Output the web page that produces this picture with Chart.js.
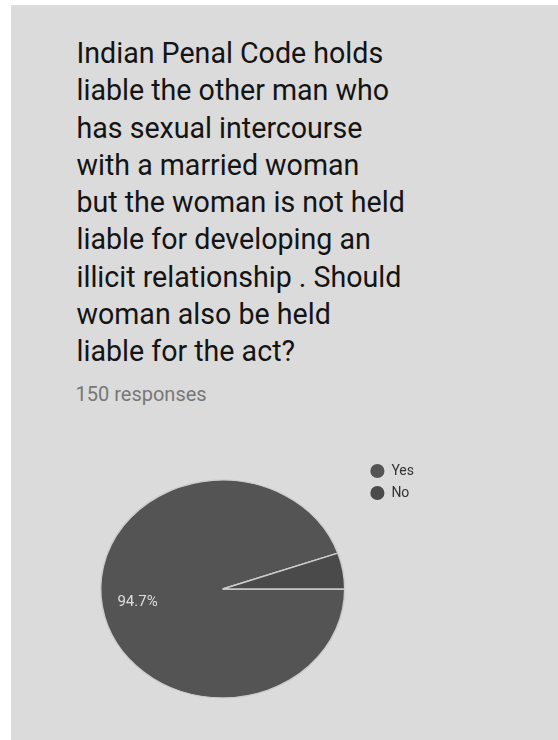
<!DOCTYPE html>
<html>
<head>
<meta charset="utf-8">
<script src="https://cdn.jsdelivr.net/npm/chart.js@4"></script>
<style>
  body { margin: 0; background: #fff; width: 558px; height: 740px; overflow: hidden; position: relative; font-family: Roboto, sans-serif; }
  .panel { position: absolute; left: 11px; top: 5px; right: 0; bottom: 0; background: #dbdbdb; }
  .title { position: absolute; left: 65.5px; top: 30px; font-size: 28.6px; line-height: 37.3px; color: #141414; white-space: nowrap; }
  .count { position: absolute; left: 64.5px; top: 378.9px; font-size: 20px; line-height: 20px; color: #777; white-space: nowrap; }
  #pie { position: absolute; left: 83px; top: 456px; }
</style>
</head>
<body>
<div class="panel">
  <div class="title">Indian Penal Code holds<br>liable the other man who<br>has sexual intercourse<br>with a married woman<br>but the woman is not held<br>liable for developing an<br>illicit relationship . Should<br>woman also be held<br>liable for the act?</div>
  <div class="count">150 responses</div>
</div>
<canvas id="pie" width="341" height="266"></canvas>
<script>
const labels = ['Yes', 'No'];
const responses = [142, 8];
const sliceColors = ['#545454', '#4a4a4a'];

// the pie in the picture is a bit flattened
const squish = 0.893;

const ellipse = {
  id: 'ellipse',
  beforeDatasetsDraw(chart) {
    const arc = chart.getDatasetMeta(0).data[0];
    const ctx = chart.ctx;
    ctx.save();
    ctx.translate(arc.x, arc.y);
    ctx.scale(1, squish);
    ctx.translate(-arc.x, -arc.y);
  },
  afterDatasetsDraw(chart) {
    chart.ctx.restore();
  }
};

// percentage text inside the big slices
const sliceText = {
  id: 'sliceText',
  afterDatasetsDraw(chart) {
    const ctx = chart.ctx;
    const values = chart.data.datasets[0].data;
    const total = values.reduce((a, b) => a + b, 0);
    chart.getDatasetMeta(0).data.forEach((arc, i) => {
      const pct = values[i] / total * 100;
      if (pct < 10) return;
      const mid = (arc.startAngle + arc.endAngle) / 2;
      const r = arc.outerRadius * 0.708;
      ctx.save();
      ctx.fillStyle = '#dedede';
      ctx.font = '15px Roboto';
      ctx.textAlign = 'center';
      ctx.textBaseline = 'middle';
      ctx.fillText(pct.toFixed(1) + '%', arc.x + Math.cos(mid) * r, arc.y + Math.sin(mid) * r * squish);
      ctx.restore();
    });
  }
};

new Chart(document.getElementById('pie'), {
  type: 'pie',
  data: {
    labels: labels,
    datasets: [{
      data: responses,
      backgroundColor: sliceColors,
      borderColor: '#cccccc',
      borderWidth: 1.5,
      radius: 122
    }]
  },
  options: {
    responsive: false,
    animation: false,
    rotation: 90,
    plugins: {
      legend: {
        position: 'right',
        align: 'start',
        labels: {
          usePointStyle: true,
          pointStyle: 'circle',
          boxWidth: 14,
          boxHeight: 10,
          padding: 8,
          color: '#333',
          font: { family: 'Roboto', size: 14 },
          generateLabels: chart => Chart.overrides.doughnut.plugins.legend.labels.generateLabels(chart)
            .map(item => ({ ...item, lineWidth: 0 }))
        }
      },
      tooltip: { enabled: false }
    }
  },
  plugins: [ellipse, sliceText]
});
</script>
</body>
</html>
